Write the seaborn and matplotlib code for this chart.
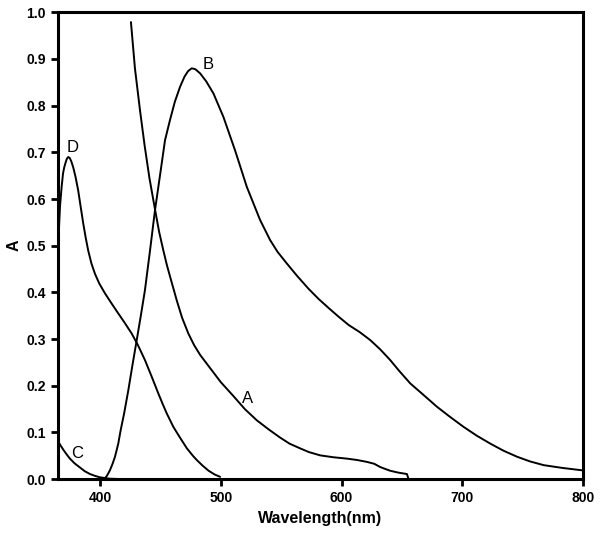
import matplotlib
matplotlib.use("Agg")
import pandas as pd
import matplotlib.pyplot as plt
import seaborn as sns

# -----------------------------
# Spectra
# -----------------------------
a_wl = [425.7, 429.0, 433.2, 437.0, 441.0, 445.6, 449.0, 452.5, 455.5, 458.5, 463.6,
        468.0, 473.2, 478.0, 483.0, 491.2, 500.0, 510.5, 520.0, 529.9, 540.0, 549.2,
        557.0, 565.7, 573.0, 582.3, 593.0, 604.4, 613.0, 621.0, 627.0, 632.0, 636.0,
        640.3, 647.0, 654.1, 655.5, 700.0, 800.0]
a_abs = [0.979, 0.880, 0.790, 0.715, 0.645, 0.578, 0.530, 0.490, 0.458, 0.430, 0.383,
         0.346, 0.312, 0.287, 0.266, 0.238, 0.208, 0.178, 0.150, 0.126, 0.106, 0.089,
         0.076, 0.066, 0.058, 0.051, 0.047, 0.044, 0.041, 0.037, 0.033, 0.026, 0.022,
         0.018, 0.014, 0.011, 0.0, 0.0, 0.0]

b_wl = [404.0, 406.0, 408.3, 410.5, 412.5, 415.2, 417.2, 420.0, 423.5, 427.0, 430.5,
        434.0, 437.3, 441.5, 445.6, 450.0, 453.9, 458.0, 462.0, 466.3, 470.0, 473.0,
        476.0, 479.0, 483.0, 488.0, 494.0, 502.2, 511.9, 521.6, 532.6, 540.9, 547.0,
        554.7, 563.0, 572.6, 581.0, 590.0, 598.0, 606.0, 615.0, 623.7, 632.0, 640.3,
        648.0, 656.9, 668.0, 679.0, 690.0, 701.0, 712.0, 723.2, 734.0, 745.3, 756.0,
        767.3, 783.0, 799.0]
b_abs = [0.001, 0.008, 0.019, 0.033, 0.048, 0.076, 0.105, 0.140, 0.190, 0.245, 0.298,
         0.352, 0.405, 0.490, 0.576, 0.655, 0.726, 0.769, 0.808, 0.840, 0.862, 0.874,
         0.880, 0.878, 0.869, 0.852, 0.826, 0.776, 0.704, 0.626, 0.555, 0.512, 0.487,
         0.462, 0.436, 0.408, 0.386, 0.365, 0.347, 0.330, 0.315, 0.298, 0.278, 0.255,
         0.231, 0.205, 0.180, 0.155, 0.133, 0.112, 0.093, 0.076, 0.061, 0.048, 0.038,
         0.030, 0.024, 0.019]

c_wl = [365.0, 367.5, 370.0, 372.5, 375.2, 379.0, 383.5, 387.5, 391.8, 396.0, 400.0,
        408.0, 420.0, 430.0]
c_abs = [0.083, 0.072, 0.062, 0.053, 0.044, 0.034, 0.025, 0.017, 0.011, 0.007, 0.004,
         0.001, 0.0, 0.0]

d_wl = [365.2, 366.0, 367.0, 368.3, 369.5, 370.5, 371.5, 372.6, 373.8, 375.0, 376.3,
        377.9, 379.8, 382.0, 384.0, 386.2, 388.2, 390.3, 393.0, 395.9, 399.5, 404.2,
        409.5, 415.2, 420.5, 426.3, 431.5, 437.3, 442.5, 448.3, 451.8, 455.3, 460.8,
        466.3, 472.0, 477.0, 480.2, 485.0, 490.0, 495.0, 499.5]
d_abs = [0.483, 0.530, 0.585, 0.625, 0.655, 0.668, 0.677, 0.686, 0.690, 0.688, 0.681,
         0.668, 0.648, 0.619, 0.585, 0.548, 0.518, 0.490, 0.462, 0.440, 0.419, 0.398,
         0.377, 0.355, 0.335, 0.312, 0.287, 0.255, 0.222, 0.184, 0.162, 0.141, 0.112,
         0.089, 0.066, 0.050, 0.041, 0.029, 0.018, 0.010, 0.005]

labels = ["A", "B", "C", "D"]
label_pos = [(522.6, 0.173), (490.0, 0.888), (381.0, 0.056), (377.5, 0.711)]

x_ticks = [400, 500, 600, 700, 800]
y_ticks = [0.0, 0.1, 0.2, 0.3, 0.4, 0.5, 0.6, 0.7, 0.8, 0.9, 1.0]

# -----------------------------
# Plot
# -----------------------------
sns.set_style("ticks")
plt.rcParams['font.family'] = ['Liberation Sans', 'DejaVu Sans']
plt.rcParams['text.color'] = 'black'
plt.rcParams['axes.labelcolor'] = 'black'

fig = plt.figure(figsize=(6, 5.33), dpi=100)
ax = fig.add_axes([0.096, 0.101, 0.876, 0.876])

for wl, ab in [(a_wl, a_abs), (b_wl, b_abs), (c_wl, c_abs), (d_wl, d_abs)]:
    df = pd.DataFrame({"wl": wl, "abs": ab})
    sns.lineplot(data=df, x="wl", y="abs", sort=False, estimator=None,
                 color="black", linewidth=1.4, ax=ax)

for lab, (x, y) in zip(labels, label_pos):
    ax.text(x, y, lab, fontsize=12, ha="center", va="center", color="black")

ax.set_xlim(365, 800)
ax.set_ylim(0, 1.0)
ax.set_xticks(x_ticks)
ax.set_yticks(y_ticks)
ax.set_yticklabels([f"{v:.1f}" for v in y_ticks])
ax.set_xlabel("Wavelength(nm)", fontsize=11.5, fontweight="bold", color="black")
ax.set_ylabel("A", fontsize=11.5, fontweight="bold", color="black")
ax.yaxis.set_label_coords(-0.068, 0.5)

for s in ax.spines.values():
    s.set_visible(True)
    s.set_linewidth(2.2)
    s.set_color("black")
ax.tick_params(direction="out", length=5, width=2, labelsize=10, colors="black")
for t in ax.get_xticklabels() + ax.get_yticklabels():
    t.set_fontweight("bold")

plt.savefig("out.png", dpi=100)
